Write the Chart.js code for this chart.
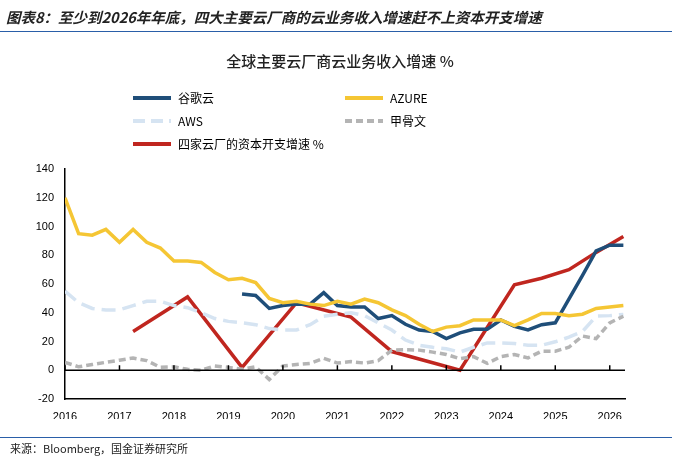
<!DOCTYPE html>
<html><head><meta charset="utf-8">
<script src="https://cdn.jsdelivr.net/npm/chart.js@4"></script>
<style>
body{margin:0;width:680px;height:464px;background:#fff;font-family:"Noto Sans CJK SC","Liberation Sans",sans-serif;position:relative;overflow:hidden}
#hdr{position:absolute;left:6px;top:6px;font-size:14.5px;font-weight:bold;font-style:italic;color:#222}
#hl{position:absolute;left:0;top:31px;width:672px;height:1px;background:#2a5ea8}
#ttl{position:absolute;left:0;width:680px;top:50px;text-align:center;font-size:15px;font-weight:500;color:#222}
#fl{position:absolute;left:0;top:437px;width:672px;height:1px;background:#2a5ea8}
#ftr{position:absolute;left:10px;top:440px;font-size:11px;color:#222}
.lg{position:absolute;font-size:12px;color:#000;display:flex;align-items:center}
.lg svg{margin-right:7px}
canvas{position:absolute;left:0;top:0}
</style></head><body>
<canvas id="c" width="680" height="464"></canvas>
<div id="hdr">图表8：至少到2026年年底，四大主要云厂商的云业务收入增速赶不上资本开支增速</div>
<div id="hl"></div>
<div id="ttl">全球主要云厂商云业务收入增速 %</div>
<div class="lg" style="left:133px;top:89px"><svg width="38" height="6"><line x1="0" y1="3" x2="38" y2="3" stroke="#1f4e79" stroke-width="4"/></svg>谷歌云</div>
<div class="lg" style="left:345px;top:89px"><svg width="38" height="6"><line x1="0" y1="3" x2="38" y2="3" stroke="#f5c634" stroke-width="4"/></svg>AZURE</div>
<div class="lg" style="left:133px;top:112px"><svg width="38" height="6"><line x1="0" y1="3" x2="38" y2="3" stroke="#d6e4f2" stroke-width="4" stroke-dasharray="12,6"/></svg>AWS</div>
<div class="lg" style="left:345px;top:112px"><svg width="38" height="6"><line x1="0" y1="3" x2="38" y2="3" stroke="#b4b4b4" stroke-width="4" stroke-dasharray="7,4"/></svg>甲骨文</div>
<div class="lg" style="left:133px;top:135px"><svg width="38" height="6"><line x1="0" y1="3" x2="38" y2="3" stroke="#c0261f" stroke-width="4"/></svg>四家云厂的资本开支增速 %</div>
<div id="fl"></div>
<div id="ftr">来源：Bloomberg，国金证券研究所</div>
<script>
const start = 2016;
const azure = [120,95,94,98, 89,98,89,85, 76,76,75,68, 63,64,61,50, 47,48,46,45, 48,46,49.5,47, 42,38,32,27, 30,31,35,35, 35,31,35,39.5, 39.5,38,39,43, 44,45];
const aws = [55,47,43,42, 42,45,48,48, 45,43.5,40,36, 34,33,31.7,29, 28,28,31.7,37.6, 39,40,38,33, 28,21,17.4,16, 15,12.6,16,19, 19,18.6,17.4,17.4, 19.8,23,27,37.6, 38,38.8];
const oracle = [5.5,2.4,4,5.5, 7,8.5,6.7,2, 2.4,0.7,0,3, 2,0.7,2.4,-6.4, 3,4,4.8,8.3, 5,6,5,6.7, 14,14.3,14,12.6, 11,8,9.5,4.8, 9.5,11,8.6,13.3, 13.3,16,23.8,22, 33,37.6];
const google = [null,null,null,null, null,null,null,null, null,null,null,null, null,53,52,43, 45,46,46,54, 45,44,44,36, 38,32,28,27, 22,26,28.5,28.5, 35,30.5,28,31.7, 33,49.5,66,83, 87,87];
const capexX = [2017.25,2018.25,2019.25,2020.25,2021.25,2022.0,2023.25,2024.25,2024.75,2025.25,2025.75,2026.25];
const capexY = [27,51,2,47,37,13,0,59.5,64,70,82,93];
const yearTicks = [2016,2017,2018,2019,2020,2021,2022,2023,2024,2025,2026];
const q = a => a.map((v,i)=>({x:start+i/4,y:v}));
const cap = capexX.map((x,i)=>({x,y:capexY[i]}));
const ds = (data,color,dash)=>({data,borderColor:color,borderWidth:3.5,borderDash:dash||[],pointRadius:0,fill:false,tension:0,spanGaps:false});
new Chart(document.getElementById('c'),{type:'line',
data:{datasets:[ds(q(oracle),'#b4b4b4',[7,4]),ds(q(aws),'#d6e4f2',[14,7]),ds(q(azure),'#f5c634'),ds(q(google),'#1f4e79'),ds(cap,'#c0261f')]},
options:{responsive:false,animation:false,events:[],
layout:{padding:{left:30,right:55,top:169,bottom:45}},
plugins:{legend:{display:false},tooltip:{enabled:false}},
scales:{
x:{type:'linear',min:2016,max:2026.28,grid:{display:false,drawTicks:true},border:{color:'#000',width:1.5},
 afterBuildTicks:s=>{s.ticks=yearTicks.map(v=>({value:v}));},
 ticks:{color:'#000',font:{family:'Liberation Sans',size:11},autoSkip:false,maxRotation:0,callback:v=>String(v)},
 afterFit:s=>{s.height=20;}},
y:{min:-20,max:140,grid:{display:false},border:{color:'#000',width:1.5},
 ticks:{stepSize:20,color:'#000',font:{family:'Liberation Sans',size:11}},
 afterFit:s=>{s.width=35;}}
}},
plugins:[{id:'zero',afterDatasetsDraw(c){const x=c.scales.x,y=c.scales.y,ctx=c.ctx;ctx.save();ctx.strokeStyle='#000';ctx.lineWidth=1.5;ctx.beginPath();ctx.moveTo(x.left,y.getPixelForValue(0));ctx.lineTo(x.right,y.getPixelForValue(0));ctx.stroke();
 yearTicks.forEach(v=>{const px=x.getPixelForValue(v);ctx.beginPath();ctx.moveTo(px,y.getPixelForValue(0));ctx.lineTo(px,y.getPixelForValue(0)-5);ctx.stroke();});ctx.restore();}}]
});
</script></body></html>
